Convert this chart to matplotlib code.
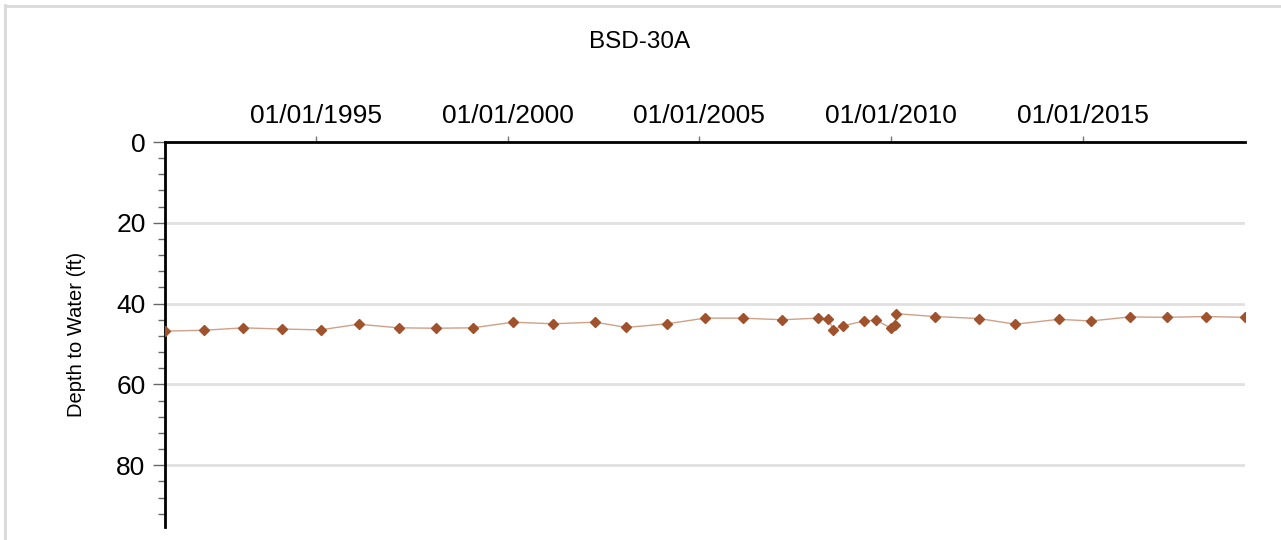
import matplotlib
matplotlib.use("Agg")
import matplotlib.pyplot as plt
import matplotlib.dates as mdates
from matplotlib.lines import Line2D
from matplotlib.ticker import MultipleLocator
import pandas as pd

plt.rcParams['font.family'] = ['Liberation Sans', 'DejaVu Sans']

# measurement dates and depth to water (ft)
dates = pd.to_datetime([
    "1991-01-24", "1992-02-01", "1993-02-04", "1994-02-11", "1995-02-14",
    "1996-02-11", "1997-02-27", "1998-02-18", "1999-02-02", "2000-02-23",
    "2001-03-06", "2002-04-14", "2003-02-07", "2004-03-01", "2005-02-23",
    "2006-02-17", "2007-03-03", "2008-02-05", "2008-05-14", "2008-07-01",
    "2008-10-04", "2009-04-19", "2009-08-11", "2010-01-05", "2010-02-06",
    "2010-02-22", "2011-02-22", "2012-04-19", "2013-03-29", "2014-05-17",
    "2015-03-23", "2016-03-23", "2017-03-17", "2018-03-18", "2019-03-28",
])
depth = [
    46.8, 46.6, 46.0, 46.3, 46.5,
    45.1, 46.0, 46.1, 46.0, 44.6,
    45.0, 44.6, 45.9, 45.0, 43.6,
    43.6, 44.0, 43.6, 43.8, 46.5,
    45.5, 44.3, 44.1, 46.1, 45.3,
    42.5, 43.2, 43.7, 45.1, 43.9,
    44.3, 43.3, 43.4, 43.2, 43.4,
]
y_major = [0, 20, 40, 60, 80]

fig = plt.figure(figsize=(12.81, 5.4), dpi=100)
ax = fig.add_axes([165 / 1281, 1 - 527 / 540, (1245 - 165) / 1281, (527 - 142) / 540])

# light grey frame (left and top)
fig.add_artist(Line2D([5 / 1281, 5 / 1281], [0, 1 - 5 / 540], transform=fig.transFigure,
                      color="#d9d9d9", lw=2))
fig.add_artist(Line2D([5 / 1281, 1], [1 - 6 / 540, 1 - 6 / 540], transform=fig.transFigure,
                      color="#d9d9d9", lw=2))

for v in y_major[1:]:
    ax.axhline(v, color="#e0e0e0", lw=2, zorder=1)

ax.plot(dates, depth, color="#d0a088", lw=1, zorder=2)
ax.plot(dates, depth, linestyle="none", marker="D", markersize=5.5,
        color="#a0522d", zorder=3)

ax.set_xlim(dates[0], dates[-1])
ax.set_ylim(95.3, 0)

ax.xaxis.tick_top()
ax.xaxis.set_major_locator(mdates.YearLocator(5))
ax.xaxis.set_major_formatter(mdates.DateFormatter("%m/%d/%Y"))
ax.set_yticks(y_major)
ax.yaxis.set_minor_locator(MultipleLocator(4))

ax.tick_params(axis="x", which="major", direction="out", length=4, width=1,
               color="#777777", labelsize=19, pad=6)
ax.tick_params(axis="y", which="major", direction="out", length=9, width=1,
               color="#666666", labelsize=19, pad=5)
ax.tick_params(axis="y", which="minor", direction="out", length=5, width=1,
               color="#666666")

for s in ["right", "bottom"]:
    ax.spines[s].set_visible(False)
for s in ["top", "left"]:
    ax.spines[s].set_linewidth(2)
    ax.spines[s].set_color("black")

ax.set_ylabel("Depth to Water (ft)", fontsize=14.5, labelpad=22)

fig.text(640 / 1281, 1 - 42 / 540, "BSD-30A", ha="center", va="center", fontsize=17.5)

fig.savefig("out.png", dpi=100, facecolor="white")
